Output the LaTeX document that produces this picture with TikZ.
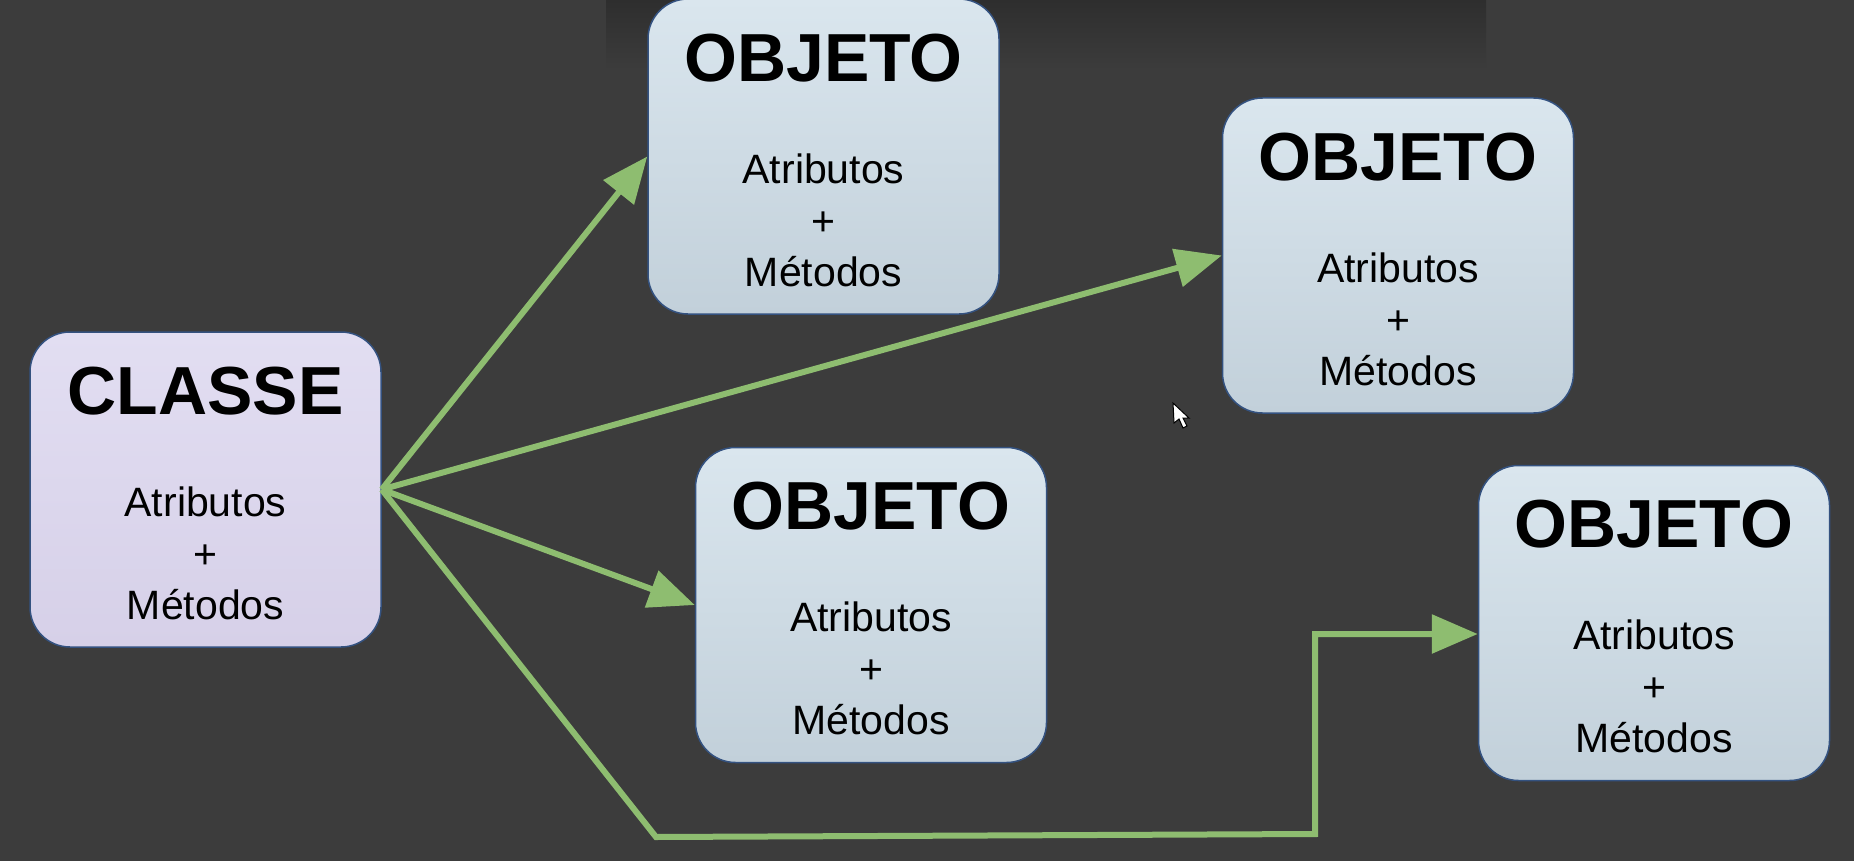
\documentclass[tikz,border=0pt]{standalone}
\usepackage{fontspec}
\setmainfont{Liberation Sans}
\usetikzlibrary{arrows.meta,calc}
\definecolor{bg}{RGB}{60,60,60}
\definecolor{bandtop}{RGB}{46,46,46}
\definecolor{arrowgreen}{RGB}{142,189,112}
\definecolor{edgeblue}{RGB}{52,82,128}
\definecolor{clsTop}{RGB}{226,222,242}
\definecolor{clsBot}{RGB}{214,208,232}
\definecolor{objTop}{RGB}{218,230,238}
\definecolor{objBot}{RGB}{194,208,218}
\tikzset{
  basebox/.style={rectangle, rounded corners=40pt, draw=edgeblue, line width=1.5pt,
    minimum width=351pt, minimum height=315pt, inner sep=0pt},
  classbox/.style={basebox, top color=clsTop, bottom color=clsBot},
  objbox/.style={basebox, top color=objTop, bottom color=objBot},
  titletext/.style={anchor=base, inner sep=0pt, font=\bfseries\fontsize{68}{80}\selectfont},
  bodytext/.style={anchor=base, inner sep=0pt, font=\fontsize{41}{50}\selectfont},
  conn/.style={draw=arrowgreen, line width=6pt, line join=miter,
    -{Triangle[length=46pt,width=38pt]}},
}
\newcommand{\drawumlbox}[5]{%
  \node[#5] (#1) at (#2,#3) {};
  \node[titletext] (#1-title) at ([yshift=-83pt]#1.north) {#4};
  \node[bodytext] (#1-attr) at ([yshift=-185pt]#1.north) {Atributos};
  \node[bodytext] (#1-plus) at ([yshift=-237pt]#1.north) {+};
  \node[bodytext] (#1-meth) at ([yshift=-288pt]#1.north) {Métodos};
}
\begin{document}
\begin{tikzpicture}[x=1pt,y=-1pt]
  \useasboundingbox (0,0) rectangle (1854,861);
  \fill[bg] (0,0) rectangle (1854,861);
  \shade[top color=bandtop, bottom color=bg] (606,0) rectangle (1486,70);

  \drawumlbox{cls}{205.5}{489.5}{CLASSE}{classbox}
  \drawumlbox{o1}{823.5}{156.5}{OBJETO}{objbox}
  \drawumlbox{o2}{1398}{255.5}{OBJETO}{objbox}
  \drawumlbox{o3}{871}{605}{OBJETO}{objbox}
  \drawumlbox{o4}{1654}{623}{OBJETO}{objbox}

  \coordinate (b1) at (656,837);
  \coordinate (b2) at (1315,834);
  \coordinate (b3) at (1315,634);
  \coordinate (o4in) at ([yshift=-11pt]o4.west);

  \draw[conn] (cls.east) -- (o1.west);
  \draw[conn] (cls.east) -- (o2.west);
  \draw[conn] (cls.east) -- (o3.west);
  \draw[conn] (cls.east) -- (b1) -- (b2) -- (b3) -- (o4in);

  \filldraw[fill=white, draw=black, line width=1pt]
    (1173,403) -- (1174,423) -- (1179,419) -- (1183,428) -- (1187,426) -- (1183,418) -- (1189,418) -- cycle;
\end{tikzpicture}
\end{document}
